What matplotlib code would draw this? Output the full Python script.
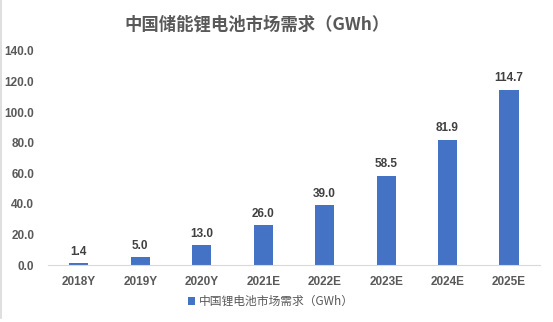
import matplotlib
matplotlib.use('Agg')
import matplotlib.pyplot as plt
from matplotlib.lines import Line2D
import numpy as np

plt.rcParams['font.family'] = ['Noto Sans CJK SC', 'DejaVu Sans']
num_font = ['Liberation Sans', 'DejaVu Sans']

years = ['2018Y', '2019Y', '2020Y', '2021E', '2022E', '2023E', '2024E', '2025E']
demand = [1.4, 5.0, 13.0, 26.0, 39.0, 58.5, 81.9, 114.7]
title = '中国储能锂电池市场需求（GWh）'
series_name = '中国锂电池市场需求（GWh）'

fig = plt.figure(figsize=(5.53, 3.22), dpi=100)
ax = fig.add_axes([0.087, 0.177, 0.889, 0.665])

x = np.arange(len(years))
ax.bar(x, demand, width=0.31, color='#4472C4', label=series_name, zorder=2)

for xi, v in zip(x, demand):
    ax.text(xi, v + 3.5, f'{v:.1f}', ha='center', va='bottom', fontsize=8.5,
            color='#404040', fontweight='bold', family=num_font)

ax.set_xlim(-0.5, len(years) - 0.5)
ax.set_ylim(0, 140)
yt = np.arange(0, 141, 20)
ax.set_yticks(yt)
ax.set_yticklabels([f'{t:.1f}' for t in yt])
ax.set_xticks(x)
ax.set_xticklabels(years)
ax.tick_params(axis='both', length=0, labelsize=8.5, colors='#595959')
ax.tick_params(axis='x', pad=8)
ax.tick_params(axis='y', pad=10)
for lab in ax.get_xticklabels() + ax.get_yticklabels():
    lab.set_fontweight('bold')
    lab.set_family(num_font)

for side in ['top', 'right', 'left']:
    ax.spines[side].set_visible(False)
ax.spines['bottom'].set_color('#D9D9D9')

fig.text(0.465, 0.925, title, ha='center', va='center', fontsize=12.5,
         color='#595959', fontweight='bold')

fig.legend(loc='center', bbox_to_anchor=(0.49, 0.063), frameon=False,
           fontsize=8.5, handlelength=0.6, handleheight=0.6, handletextpad=0.3,
           labelcolor='#595959')

# thin grey border on the left edge
fig.add_artist(Line2D([0.002, 0.002], [0.012, 1.0], color='#D9D9D9', lw=1.2,
                      transform=fig.transFigure))

fig.savefig('out.png', dpi=100)
